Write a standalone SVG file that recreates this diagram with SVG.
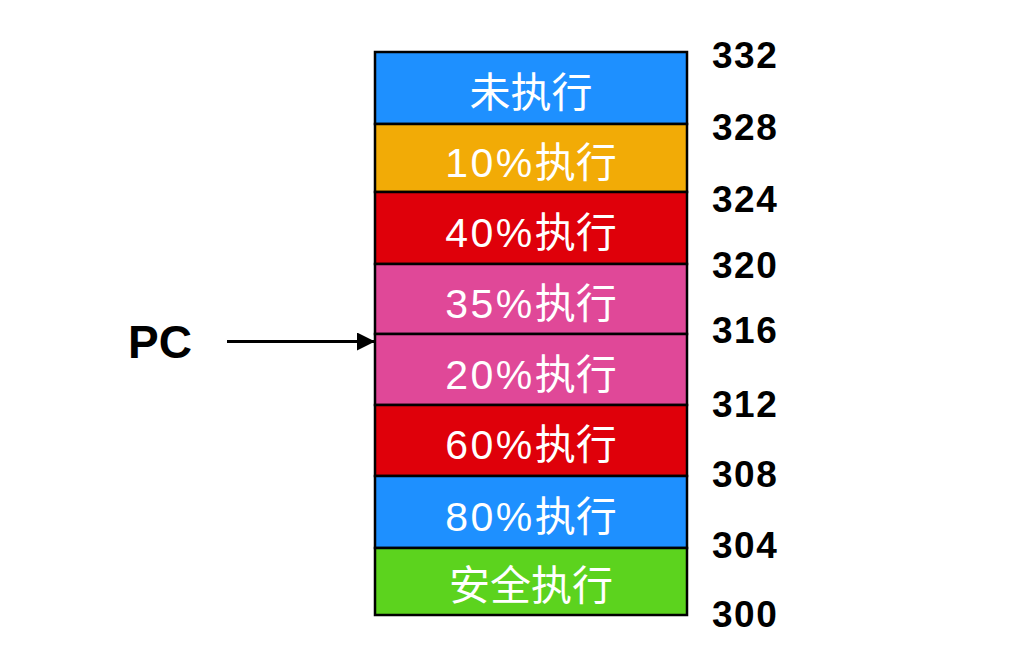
<svg xmlns="http://www.w3.org/2000/svg" width="1030" height="660" viewBox="0 0 1030 660">
<style>
.cell{stroke:#000;stroke-width:2.5}
.lbl{fill:#fff;font-family:"Liberation Sans","Noto Sans CJK SC",sans-serif;font-size:41px;text-anchor:middle}
.num{letter-spacing:2.5px}
.addr{fill:#000;font-family:"Liberation Sans",Arial,sans-serif;font-size:37px;font-weight:bold;letter-spacing:1.5px}
.pc{fill:#000;font-family:"Liberation Sans",Arial,sans-serif;font-size:46px;font-weight:bold}
</style>
<defs>
<marker id="ah" markerWidth="18" markerHeight="18" refX="18" refY="9" orient="auto" markerUnits="userSpaceOnUse">
<path d="M0,0 L18,9 L0,18 Z" fill="#000"/>
</marker>
</defs>
<rect width="1030" height="660" fill="#fff"/>
<g id="n1"><rect class="cell" x="375" y="52" width="312" height="72" fill="#1E90FF"/><text class="lbl" x="531" y="107">未执行</text></g>
<g id="n2"><rect class="cell" x="375" y="124" width="312" height="68" fill="#F2AB06"/><text class="lbl" x="531" y="177"><tspan class="num">10%</tspan>执行</text></g>
<g id="n3"><rect class="cell" x="375" y="192" width="312" height="72" fill="#DF000A"/><text class="lbl" x="531" y="247"><tspan class="num">40%</tspan>执行</text></g>
<g id="n4"><rect class="cell" x="375" y="264" width="312" height="70" fill="#E04898"/><text class="lbl" x="531" y="318"><tspan class="num">35%</tspan>执行</text></g>
<g id="n5"><rect class="cell" x="375" y="334" width="312" height="71" fill="#E04898"/><text class="lbl" x="531" y="389"><tspan class="num">20%</tspan>执行</text></g>
<g id="n6"><rect class="cell" x="375" y="405" width="312" height="71" fill="#DF000A"/><text class="lbl" x="531" y="459"><tspan class="num">60%</tspan>执行</text></g>
<g id="n7"><rect class="cell" x="375" y="476" width="312" height="72" fill="#1E90FF"/><text class="lbl" x="531" y="531"><tspan class="num">80%</tspan>执行</text></g>
<g id="n8"><rect class="cell" x="375" y="548" width="312" height="67" fill="#5CD31E"/><text class="lbl" x="531" y="600">安全执行</text></g>
<g id="addrs">
<text class="addr" x="712" y="68">332</text>
<text class="addr" x="712" y="140">328</text>
<text class="addr" x="712" y="212">324</text>
<text class="addr" x="712" y="278">320</text>
<text class="addr" x="712" y="343">316</text>
<text class="addr" x="712" y="417">312</text>
<text class="addr" x="712" y="487">308</text>
<text class="addr" x="712" y="558">304</text>
<text class="addr" x="712" y="627">300</text>
</g>
<g id="pc"><text class="pc" x="128" y="358">PC</text></g>
<g id="connectors">
<line x1="227" y1="341.5" x2="375" y2="341.5" stroke="#000" stroke-width="3" marker-end="url(#ah)"/>
</g>
</svg>
